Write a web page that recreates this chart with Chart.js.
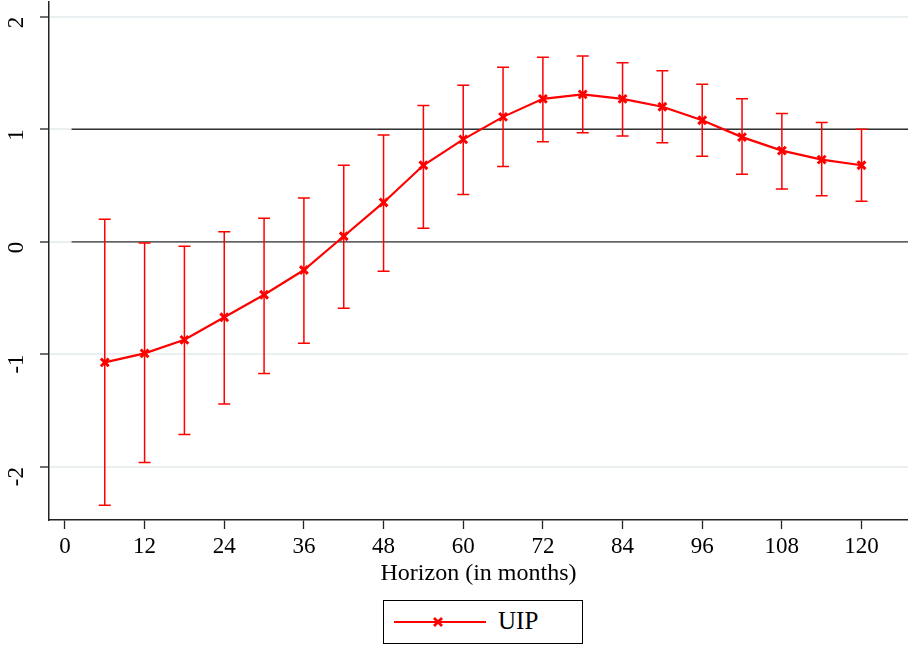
<!DOCTYPE html>
<html>
<head>
<meta charset="utf-8">
<script src="https://cdn.jsdelivr.net/npm/chart.js@4.4.0/dist/chart.umd.min.js"></script>
<style>
  body { margin: 0; background: #fff; width: 908px; height: 646px; position: relative; overflow: hidden; }
  #wrap { position: absolute; left: 0; top: 0; width: 908px; height: 590px; }
  #legend {
    position: absolute; left: 383px; top: 600px; width: 198px; height: 42px;
    border: 1px solid #000; font-family: "Liberation Serif", serif; font-size: 25px;
  }
  #legend svg { position: absolute; left: 9px; top: 11px; }
  #legend span { position: absolute; left: 114px; top: 6px; }
</style>
</head>
<body>
<div id="wrap"><canvas id="chart"></canvas></div>
<div id="legend">
  <svg width="96" height="20"><line x1="1" y1="10" x2="93" y2="10" stroke="#ff0000" stroke-width="2.2"/>
    <path d="M41 6 L49 14 M49 6 L41 14" stroke="#ff0000" stroke-width="2.8"/></svg>
  <span>UIP</span>
</div>
<script>
// horizon in months
const horizon = [6, 12, 18, 24, 30, 36, 42, 48, 54, 60, 66, 72, 78, 84, 90, 96, 102, 108, 114, 120];
const uip   = [-1.07, -0.99, -0.87, -0.67, -0.47, -0.25, 0.05, 0.35, 0.68, 0.91, 1.11, 1.27, 1.31, 1.27, 1.20, 1.08, 0.93, 0.81, 0.73, 0.68];
const upper = [0.20, -0.01, -0.04, 0.09, 0.21, 0.39, 0.68, 0.95, 1.21, 1.39, 1.55, 1.64, 1.65, 1.59, 1.52, 1.40, 1.27, 1.14, 1.06, 1.00];
const lower = [-2.34, -1.96, -1.71, -1.44, -1.17, -0.90, -0.59, -0.26, 0.12, 0.42, 0.67, 0.89, 0.97, 0.94, 0.88, 0.76, 0.60, 0.47, 0.41, 0.36];
const xTicks = [0, 12, 24, 36, 48, 60, 72, 84, 96, 108, 120];
const yTicks = [-2, -1, 0, 1, 2];
const refLines = [0, 1];

const RED = '#ff0000';
const SERIF = '"Liberation Serif", "Times New Roman", serif';

const errorBars = {
  id: 'errorBars',
  afterDatasetsDraw(chart) {
    const { ctx, scales: { x, y } } = chart;
    ctx.save();
    ctx.strokeStyle = RED;
    ctx.lineWidth = 1.5;
    horizon.forEach((h, i) => {
      const px = x.getPixelForValue(h);
      const top = y.getPixelForValue(upper[i]);
      const bot = y.getPixelForValue(lower[i]);
      ctx.beginPath();
      ctx.moveTo(px, top); ctx.lineTo(px, bot);
      ctx.moveTo(px - 6, top); ctx.lineTo(px + 6, top);
      ctx.moveTo(px - 6, bot); ctx.lineTo(px + 6, bot);
      ctx.stroke();
    });
    ctx.restore();
  }
};

const refSets = refLines.map(v => ({
  data: [{ x: 1, y: v }, { x: 127, y: v }],
  borderColor: '#333',
  borderWidth: 1.3,
  pointRadius: 0,
  order: 2
}));

new Chart(document.getElementById('chart'), {
  type: 'line',
  data: {
    datasets: [
      ...refSets,
      {
        label: 'UIP',
        data: horizon.map((h, i) => ({ x: h, y: uip[i] })),
        borderColor: RED,
        backgroundColor: RED,
        borderWidth: 2.2,
        pointStyle: 'crossRot',
        pointRadius: 5.5,
        pointBorderWidth: 3,
        tension: 0,
        order: 1
      }
    ]
  },
  plugins: [errorBars],
  options: {
    responsive: true,
    maintainAspectRatio: false,
    animation: false,
    layout: { autoPadding: false, padding: { top: 2, right: 0, left: 0, bottom: 0 } },
    plugins: { legend: { display: false }, tooltip: { enabled: false } },
    scales: {
      x: {
        type: 'linear',
        min: -2.4,
        max: 127,
        afterBuildTicks: s => { s.ticks = xTicks.map(v => ({ value: v })); },
        afterFit: s => { s.height = 70; s.paddingLeft = 0; s.paddingRight = 0; },
        ticks: { font: { family: SERIF, size: 23 }, color: '#000', padding: 4, maxRotation: 0 },
        grid: { drawOnChartArea: false, drawTicks: true, tickLength: 9, tickColor: '#222', tickWidth: 1.3 },
        border: { color: '#222', width: 1.5 },
        title: { display: true, text: 'Horizon (in months)', font: { family: SERIF, size: 24 }, color: '#000', padding: { top: 0, bottom: 2 } }
      },
      y: {
        min: -2.47,
        max: 2.13,
        afterBuildTicks: s => { s.ticks = yTicks.map(v => ({ value: v })); },
        afterFit: s => { s.width = 49; s.paddingTop = 0; s.paddingBottom = 0; },
        ticks: { font: { family: SERIF, size: 23 }, color: '#000', padding: 23, minRotation: 90, maxRotation: 90 },
        grid: { color: '#eaeff2', lineWidth: 2, tickLength: 9, tickColor: '#222', tickWidth: 1.3 },
        border: { color: '#222', width: 1.5 }
      }
    }
  }
});
</script>
</body>
</html>
